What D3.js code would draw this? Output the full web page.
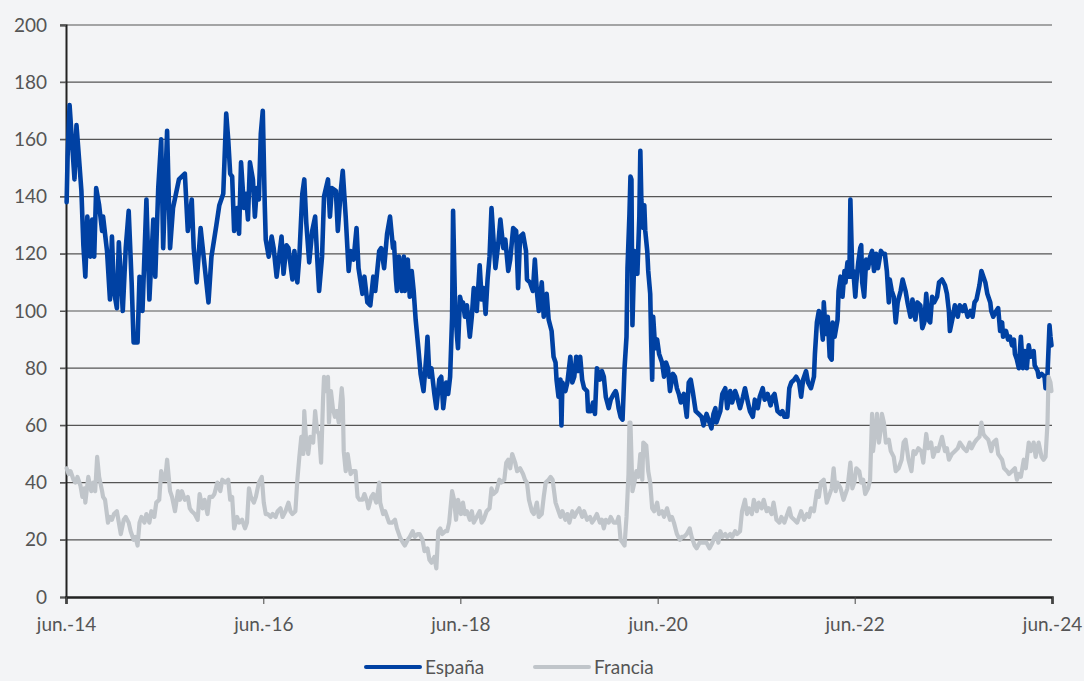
<!DOCTYPE html>
<html lang="es">
<head>
<meta charset="utf-8">
<title>España / Francia</title>
<script src="https://cdn.jsdelivr.net/npm/d3@7"></script>
<style>
  body { margin: 0; background: #f3f4f6; }
  svg text { font-family: Lato, "Noto Sans", sans-serif; fill: #555; font-size: 19px; }
</style>
</head>
<body>
<script>
// [año decimal, valor]
const espana = [
  [2014.42,138],[2014.43,154],[2014.45,172],[2014.50,146],[2014.52,165],[2014.54,156],[2014.57,142],[2014.59,123],
  [2014.61,112],[2014.63,133],[2014.66,119],[2014.68,132],[2014.70,119],[2014.72,143],[2014.75,137],[2014.78,128],
  [2014.79,133],[2014.83,121],[2014.86,104],[2014.88,126],[2014.90,107],[2014.93,101],[2014.95,124],[2014.99,100],
  [2015.02,122],[2015.05,135],[2015.08,110],[2015.10,89],[2015.14,89],[2015.16,112],[2015.19,100],[2015.23,139],
  [2015.26,104],[2015.30,132],[2015.32,112],[2015.35,143],[2015.38,160],[2015.40,122],[2015.44,163],[2015.47,122],
  [2015.50,136],[2015.56,146],[2015.62,148],[2015.65,128],[2015.69,139],[2015.71,122],[2015.74,110],[2015.78,129],
  [2015.86,103],[2015.89,119],[2015.94,130],[2015.97,137],[2016.01,141],[2016.04,169],
  [2016.06,160],[2016.08,148],[2016.10,147],[2016.12,128],[2016.15,136],[2016.17,127],[2016.19,152],[2016.22,136],
  [2016.24,141],[2016.26,132],[2016.28,152],[2016.31,146],[2016.33,133],[2016.35,143],[2016.37,139],[2016.39,162],
  [2016.41,170],[2016.43,137],[2016.44,125],[2016.47,119],[2016.50,126],[2016.52,122],[2016.55,112],[2016.60,126],
  [2016.62,113],[2016.65,123],[2016.67,122],[2016.71,111],[2016.73,121],[2016.76,110],[2016.78,119],[2016.81,141],
  [2016.83,146],[2016.85,131],[2016.88,117],[2016.91,128],[2016.94,133],[2016.96,119],[2016.98,107],[2017.01,119],
  [2017.03,140],[2017.07,146],[2017.09,133],[2017.11,143],[2017.15,142],[2017.17,128],[2017.20,142],[2017.22,149],
  [2017.25,133],[2017.28,114],[2017.30,121],[2017.33,118],[2017.36,129],[2017.38,115],[2017.42,106],[2017.44,112],
  [2017.47,103],[2017.50,102],[2017.53,112],[2017.55,107],[2017.59,121],[2017.61,122],[2017.64,115],[2017.67,127],
  [2017.70,133],[2017.73,122],[2017.74,124],[2017.76,111],[2017.77,107],[2017.79,119],[2017.82,107],[2017.84,119],
  [2017.85,107],[2017.88,118],[2017.90,105],[2017.92,114],[2017.94,107],[2017.96,97],[2017.99,86],[2018.01,78],
  [2018.04,72],[2018.07,85],[2018.08,91],[2018.10,77],[2018.12,80],[2018.15,71],[2018.17,66],[2018.20,76],
  [2018.22,77],[2018.24,66],[2018.27,75],[2018.29,71],[2018.31,77],[2018.33,98],[2018.34,135],[2018.36,102],
  [2018.38,91],[2018.39,87],[2018.41,105],[2018.43,102],[2018.44,103],[2018.46,98],[2018.48,102],[2018.51,91],
  [2018.53,98],[2018.55,108],[2018.58,100],[2018.61,116],[2018.63,104],[2018.65,108],[2018.67,99],[2018.69,111],
  [2018.71,119],[2018.73,136],[2018.75,125],[2018.77,115],[2018.80,124],[2018.82,132],[2018.85,122],[2018.87,125],
  [2018.90,114],[2018.92,118],[2018.95,129],[2018.98,128],[2019.00,108],[2019.02,126],[2019.05,127],[2019.08,121],
  [2019.09,111],[2019.12,110],[2019.15,107],[2019.17,118],[2019.19,107],[2019.21,100],[2019.24,110],[2019.26,98],
  [2019.29,106],[2019.31,97],[2019.34,93],[2019.36,84],[2019.38,82],[2019.39,76],[2019.41,70],[2019.43,76],
  [2019.44,60],[2019.45,75],[2019.48,72],[2019.50,75],[2019.53,84],[2019.55,75],[2019.57,77],[2019.59,84],
  [2019.61,79],[2019.63,84],[2019.65,76],[2019.67,73],[2019.70,72],[2019.71,65],[2019.74,65],[2019.76,68],
  [2019.78,64],[2019.80,80],[2019.83,76],[2019.85,79],[2019.87,77],[2019.89,70],[2019.92,66],[2019.94,69],
  [2019.97,71],[2019.99,72],[2020.00,71],[2020.02,66],[2020.04,63],[2020.06,62],[2020.08,80],[2020.10,91],
  [2020.11,115],[2020.13,134],[2020.14,147],[2020.15,146],[2020.16,95],[2020.18,121],[2020.20,117],[2020.21,113],
  [2020.23,133],[2020.24,156],[2020.25,139],[2020.27,129],[2020.28,137],[2020.29,128],[2020.31,121],[2020.32,114],
  [2020.34,106],[2020.35,89],[2020.36,76],[2020.37,98],[2020.39,87],[2020.41,90],[2020.43,85],[2020.46,82],
  [2020.48,77],[2020.50,82],[2020.52,80],[2020.54,72],[2020.57,78],[2020.59,77],[2020.61,73],[2020.63,71],
  [2020.65,68],[2020.68,71],[2020.71,63],[2020.73,75],[2020.75,76],[2020.77,72],[2020.80,65],[2020.83,64],
  [2020.86,63],[2020.88,60],[2020.91,64],[2020.93,62],[2020.96,59],[2020.98,64],[2021.00,66],[2021.01,61],
  [2021.05,65],[2021.07,71],[2021.10,73],[2021.12,66],[2021.15,72],[2021.17,68],[2021.20,72],[2021.22,70],
  [2021.25,66],[2021.28,70],[2021.30,73],[2021.33,68],[2021.35,65],[2021.38,63],[2021.40,69],[2021.43,66],
  [2021.45,70],[2021.48,73],[2021.50,69],[2021.53,71],[2021.56,67],[2021.58,70],[2021.60,71],[2021.63,65],
  [2021.66,64],[2021.68,65],[2021.70,63],[2021.73,63],[2021.75,73],[2021.77,75],[2021.80,76],[2021.82,77],
  [2021.85,75],[2021.87,70],[2021.89,76],[2021.92,79],[2021.94,75],[2021.97,73],[2022.00,77],[2022.01,85],
  [2022.03,96],[2022.05,100],[2022.07,98],[2022.09,90],[2022.10,103],[2022.12,92],[2022.14,98],[2022.16,84],
  [2022.18,83],[2022.19,96],[2022.21,91],[2022.24,97],[2022.25,107],[2022.27,112],[2022.29,105],[2022.31,114],
  [2022.32,110],[2022.34,117],[2022.36,112],[2022.37,139],[2022.39,112],[2022.40,114],[2022.42,105],[2022.43,110],
  [2022.45,117],[2022.47,122],[2022.48,123],[2022.49,110],[2022.51,105],[2022.53,118],[2022.55,115],[2022.57,119],
  [2022.59,121],[2022.61,114],[2022.63,120],[2022.65,115],[2022.68,121],[2022.70,120],[2022.72,120],[2022.74,114],
  [2022.76,103],[2022.77,111],[2022.79,107],[2022.81,105],[2022.83,96],[2022.85,103],[2022.88,107],[2022.90,111],
  [2022.93,107],[2022.95,103],[2022.98,98],[2023.00,104],[2023.03,97],[2023.05,103],[2023.08,102],[2023.10,94],
  [2023.12,96],[2023.14,106],[2023.16,97],[2023.18,96],[2023.20,105],[2023.22,103],[2023.25,105],[2023.27,110],
  [2023.30,111],[2023.33,109],[2023.35,106],[2023.37,100],[2023.38,93],[2023.41,98],[2023.43,102],[2023.46,98],
  [2023.48,102],[2023.51,100],[2023.53,102],[2023.56,98],[2023.59,100],[2023.61,98],[2023.63,103],[2023.65,104],
  [2023.68,109],[2023.70,114],[2023.72,112],[2023.74,110],[2023.76,106],[2023.79,103],[2023.80,100],[2023.82,98],
  [2023.85,100],[2023.87,101],[2023.89,93],[2023.91,96],[2023.92,91],[2023.95,93],[2023.97,90],[2023.99,91],
  [2024.01,88],[2024.03,90],[2024.04,85],[2024.06,83],[2024.08,80],[2024.10,91],[2024.12,80],[2024.14,86],
  [2024.16,80],[2024.18,88],[2024.20,84],[2024.23,86],[2024.24,81],[2024.27,79],[2024.28,77],[2024.31,78],
  [2024.34,77],[2024.35,73],[2024.37,78],[2024.39,95],[2024.40,91],[2024.41,88]
];

const francia = [
  [2014.42,45],[2014.44,43],[2014.46,44],[2014.49,41],[2014.51,40],[2014.53,42],[2014.56,39],[2014.58,35],
  [2014.60,38],[2014.61,33],[2014.64,42],[2014.67,37],[2014.69,40],[2014.71,37],[2014.73,49],[2014.75,42],
  [2014.78,37],[2014.79,35],[2014.81,34],[2014.84,26],[2014.86,28],[2014.88,27],[2014.90,29],[2014.93,30],
  [2014.95,26],[2014.97,22],[2015.00,27],[2015.02,28],[2015.05,26],[2015.07,23],[2015.10,20],[2015.12,21],
  [2015.14,18],[2015.16,26],[2015.18,28],[2015.21,26],[2015.23,29],[2015.26,26],[2015.28,30],[2015.31,28],
  [2015.33,33],[2015.36,34],[2015.38,44],[2015.40,41],[2015.42,41],[2015.44,48],[2015.47,37],[2015.49,35],
  [2015.52,30],[2015.55,37],[2015.57,34],[2015.59,37],[2015.62,34],[2015.65,35],[2015.67,31],[2015.69,30],
  [2015.72,29],[2015.75,27],[2015.77,36],[2015.80,31],[2015.82,34],[2015.85,29],[2015.87,35],[2015.90,35],
  [2015.92,36],[2015.95,40],[2015.98,37],[2016.00,41],[2016.03,40],
  [2016.06,41],[2016.08,34],[2016.10,35],[2016.12,24],[2016.15,28],[2016.17,26],[2016.20,27],[2016.23,24],
  [2016.25,26],[2016.27,38],[2016.29,35],[2016.32,33],[2016.34,35],[2016.37,40],[2016.40,42],[2016.42,33],
  [2016.44,29],[2016.46,29],[2016.49,28],[2016.51,29],[2016.54,28],[2016.56,30],[2016.59,31],[2016.61,28],
  [2016.64,30],[2016.67,33],[2016.69,30],[2016.71,29],[2016.74,30],[2016.76,41],[2016.78,49],[2016.80,56],
  [2016.82,50],[2016.83,65],[2016.85,54],[2016.87,50],[2016.89,56],[2016.92,54],[2016.94,65],[2016.96,58],
  [2016.98,57],[2017.00,47],[2017.02,69],[2017.03,77],[2017.05,72],[2017.07,77],[2017.08,61],[2017.10,72],
  [2017.12,66],[2017.14,63],[2017.16,65],[2017.18,61],[2017.21,73],[2017.22,69],[2017.23,51],[2017.25,44],
  [2017.27,50],[2017.30,43],[2017.32,44],[2017.35,44],[2017.37,35],[2017.39,34],[2017.42,34],[2017.44,36],
  [2017.47,33],[2017.48,31],[2017.51,35],[2017.53,36],[2017.56,33],[2017.59,40],[2017.60,33],[2017.63,29],
  [2017.65,30],[2017.67,28],[2017.69,26],
  [2017.72,26],[2017.75,27],[2017.77,24],[2017.80,21],[2017.83,19],[2017.85,18],[2017.88,20],[2017.90,21],
  [2017.93,23],[2017.95,21],[2017.98,22],[2018.00,22],[2018.03,20],[2018.05,16],[2018.08,17],[2018.10,13],
  [2018.12,12],[2018.15,14],[2018.17,10],[2018.19,23],[2018.21,24],[2018.23,22],[2018.26,23],[2018.28,23],
  [2018.30,26],[2018.33,37],[2018.35,34],[2018.37,27],[2018.39,34],[2018.42,29],[2018.44,33],[2018.46,29],
  [2018.48,30],[2018.51,27],[2018.53,30],[2018.55,26],[2018.58,28],[2018.61,30],[2018.63,26],[2018.65,27],
  [2018.68,30],[2018.71,31],[2018.73,38],[2018.75,36],[2018.78,37],[2018.81,41],[2018.83,40],[2018.86,41],
  [2018.88,47],[2018.90,48],[2018.92,45],[2018.94,50],[2018.97,47],[2018.99,44],[2019.02,45],[2019.05,43],
  [2019.07,41],[2019.09,40],[2019.11,34],[2019.14,30],[2019.16,29],[2019.19,33],[2019.21,28],[2019.24,29],
  [2019.26,35],[2019.28,40],[2019.31,41],[2019.33,42],[2019.35,41],
  [2019.38,33],[2019.40,31],[2019.43,28],[2019.45,30],[2019.48,27],[2019.50,29],[2019.52,26],[2019.55,30],
  [2019.57,28],[2019.60,30],[2019.62,31],[2019.65,28],[2019.67,30],[2019.70,27],[2019.73,28],[2019.75,26],
  [2019.77,27],[2019.80,29],[2019.83,26],[2019.85,27],[2019.87,24],[2019.89,27],[2019.92,26],[2019.94,28],
  [2019.97,26],[2020.00,26],[2020.02,28],[2020.04,20],[2020.06,19],[2020.08,18],[2020.10,28],[2020.12,43],
  [2020.13,61],[2020.14,61],[2020.16,37],[2020.18,40],[2020.20,44],[2020.22,42],[2020.24,50],[2020.26,41],
  [2020.27,54],[2020.30,53],[2020.32,44],[2020.34,40],[2020.36,31],[2020.38,30],[2020.41,33],[2020.43,29],
  [2020.46,30],[2020.48,28],[2020.51,31],[2020.54,27],[2020.56,28],[2020.58,26],[2020.61,22],[2020.64,20],
  [2020.66,21],[2020.68,21],[2020.71,22],[2020.74,24],[2020.76,21],[2020.79,18],[2020.81,17],[2020.84,19],
  [2020.86,19],[2020.89,19],[2020.91,19],[2020.94,17],[2020.97,19],[2020.99,21],[2021.01,22],
  [2021.03,19],[2021.05,23],[2021.07,21],[2021.10,22],[2021.12,21],[2021.15,22],[2021.17,21],[2021.20,23],
  [2021.22,22],[2021.25,23],[2021.27,30],[2021.30,34],[2021.32,29],[2021.34,31],[2021.37,29],[2021.39,34],
  [2021.42,30],[2021.44,33],[2021.47,31],[2021.49,34],[2021.52,30],[2021.54,31],[2021.57,29],[2021.59,33],
  [2021.62,27],[2021.65,26],[2021.67,28],[2021.70,26],[2021.72,28],[2021.75,31],[2021.77,28],[2021.80,27],
  [2021.83,26],[2021.85,28],[2021.87,30],[2021.90,27],[2021.93,29],[2021.95,28],[2021.97,31],[2022.00,30],
  [2022.03,37],[2022.05,35],[2022.07,40],[2022.10,41],[2022.13,33],[2022.15,35],[2022.18,38],[2022.20,45],
  [2022.22,37],[2022.24,40],[2022.27,38],[2022.30,34],[2022.32,36],[2022.34,38],[2022.37,47],[2022.39,38],
  [2022.41,40],[2022.43,45],[2022.46,44],[2022.48,40],[2022.50,41],[2022.52,36],[2022.55,38],[2022.57,41],
  [2022.59,64],[2022.60,51],[2022.62,57],[2022.64,64],[2022.66,54],[2022.68,59],
  [2022.69,64],[2022.71,61],[2022.73,54],[2022.76,55],[2022.78,51],[2022.81,49],[2022.83,44],[2022.86,45],
  [2022.89,48],[2022.91,54],[2022.93,55],[2022.96,48],[2022.99,44],[2023.01,51],[2023.03,50],[2023.06,52],
  [2023.09,51],[2023.11,47],[2023.14,57],[2023.16,52],[2023.19,54],[2023.21,49],[2023.24,52],[2023.26,51],
  [2023.30,56],[2023.33,51],[2023.35,52],[2023.37,48],[2023.40,50],[2023.43,51],[2023.46,52],[2023.48,54],
  [2023.52,52],[2023.55,51],[2023.58,54],[2023.60,52],[2023.63,54],[2023.65,55],[2023.68,56],[2023.70,61],
  [2023.72,57],[2023.74,56],[2023.77,55],[2023.80,51],[2023.82,54],[2023.85,55],[2023.87,50],[2023.89,49],
  [2023.91,48],[2023.93,45],[2023.96,44],[2023.98,43],[2024.01,44],[2024.04,45],[2024.06,41],[2024.08,43],
  [2024.10,42],[2024.13,48],[2024.15,45],[2024.18,54],[2024.20,51],[2024.23,54],[2024.25,49],[2024.28,54],
  [2024.31,49],[2024.33,48],[2024.35,49],[2024.37,61],[2024.38,77],[2024.40,75],[2024.41,72]
];

const nombres = ["España", "Francia"];
const colores = ["#0041a3", "#c0c5ca"];
const grosores = [4.6, 4.2];
const yTicks = [0, 20, 40, 60, 80, 100, 120, 140, 160, 180, 200];
const xTickYears = [2014, 2016, 2018, 2020, 2022, 2024];

const W = 1084, H = 681;
const m = { left: 66, right: 32, top: 25, bottom: 84 };

function toDate(y) {
  const yr = Math.floor(y);
  const a = new Date(yr, 0, 1), b = new Date(yr + 1, 0, 1);
  return new Date(+a + (y - yr) * (b - a));
}

const svg = d3.select("body").append("svg")
  .attr("width", W).attr("height", H)
  .style("display", "block");

svg.append("rect").attr("width", W).attr("height", H).attr("fill", "#f3f4f6");

const x = d3.scaleTime()
  .domain([new Date(2014, 5, 1), new Date(2024, 5, 1)])
  .range([m.left, W - m.right])
  .clamp(true);

const y = d3.scaleLinear()
  .domain([0, 200])
  .range([H - m.bottom, m.top]);

// rejilla horizontal
svg.append("g")
  .selectAll("line")
  .data(yTicks.filter(d => d > 0))
  .join("line")
  .attr("x1", m.left - 6).attr("x2", W - m.right)
  .attr("y1", d => y(d)).attr("y2", d => y(d))
  .attr("stroke", "#555").attr("stroke-width", 1.2);

// eje y
const yAxis = svg.append("g")
  .attr("transform", `translate(${m.left},0)`)
  .call(d3.axisLeft(y).tickValues(yTicks).tickSize(6).tickPadding(13));
yAxis.select(".domain").attr("stroke", "#222").attr("stroke-width", 2);
yAxis.selectAll(".tick line").attr("stroke", "#555");
yAxis.selectAll(".tick text").style("font-size", "19px").attr("fill", "#444");

// eje x
const xAxis = svg.append("g")
  .attr("transform", `translate(0,${y(0)})`)
  .call(d3.axisBottom(x)
    .tickValues(xTickYears.map(a => new Date(a, 5, 1)))
    .tickFormat(d => "jun.-" + d3.timeFormat("%y")(d))
    .tickSize(7).tickPadding(14));
xAxis.select(".domain").attr("stroke", "#222").attr("stroke-width", 2.5);
xAxis.selectAll(".tick line").attr("stroke", "#444");
xAxis.selectAll(".tick text").style("font-size", "19px").attr("fill", "#555");

const line = d3.line()
  .x(d => x(toDate(d[0])))
  .y(d => y(d[1]));

[espana, francia].forEach((serie, i) => {
  svg.append("path")
    .datum(serie)
    .attr("d", line)
    .attr("fill", "none")
    .attr("stroke", colores[i])
    .attr("stroke-width", grosores[i])
    .attr("stroke-linejoin", "round")
    .attr("stroke-linecap", "round");
});

// leyenda
const leyenda = svg.append("g").attr("transform", "translate(366,667)");
const pasos = [0, 169];
nombres.forEach((n, i) => {
  const g = leyenda.append("g").attr("transform", `translate(${pasos[i]},0)`);
  g.append("line")
    .attr("x1", 0).attr("x2", 54)
    .attr("stroke", colores[i]).attr("stroke-width", 4).attr("stroke-linecap", "round");
  g.append("text")
    .attr("x", 59).attr("y", 7)
    .style("font-size", "19px").attr("fill", "#444")
    .text(n);
});
</script>
</body>
</html>
